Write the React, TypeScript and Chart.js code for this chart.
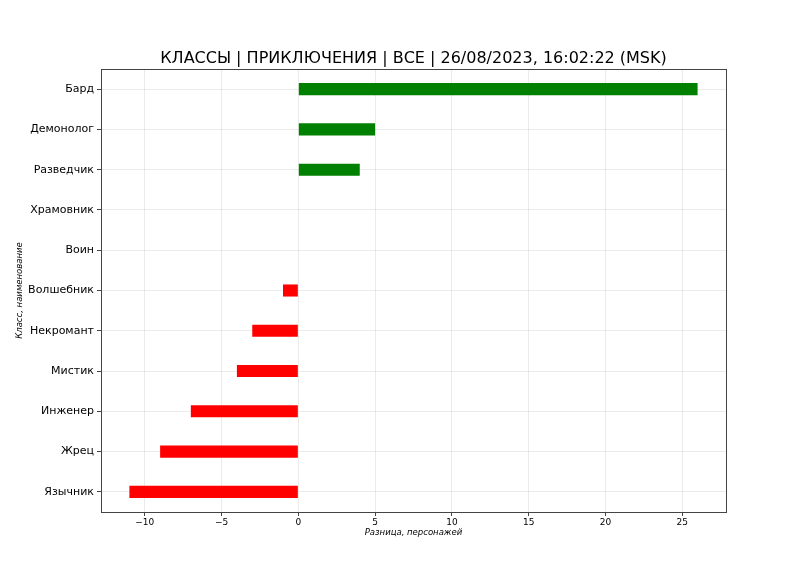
import React, { useEffect, useRef } from "react";
import { Chart, registerables } from "chart.js";

Chart.register(...registerables);

const categories = [
  "Бард",
  "Демонолог",
  "Разведчик",
  "Храмовник",
  "Воин",
  "Волшебник",
  "Некромант",
  "Мистик",
  "Инженер",
  "Жрец",
  "Язычник",
];
const values = [26, 5, 4, 0, 0, -1, -3, -4, -7, -9, -11];
const xTicks = [-10, -5, 0, 5, 10, 15, 20, 25];
const titleText = "КЛАССЫ | ПРИКЛЮЧЕНИЯ | ВСЕ | 26/08/2023, 16:02:22 (MSK)";
const xTitle = "Разница, персонажей";
const yTitle = "Класс, наименование";

const FONT = "'DejaVu Sans', sans-serif";

export default function App() {
  const ref = useRef<HTMLCanvasElement | null>(null);
  useEffect(() => {
    if (!ref.current) return;
    const frame = {
      id: "frame",
      afterDatasetsDraw(chart: any) {
        const { ctx, chartArea } = chart;
        ctx.save();
        ctx.strokeStyle = "#444";
        ctx.lineWidth = 1;
        ctx.strokeRect(
          Math.round(chartArea.left) + 0.5,
          Math.round(chartArea.top) + 0.5,
          Math.round(chartArea.right - chartArea.left),
          Math.round(chartArea.bottom - chartArea.top)
        );
        ctx.restore();
      },
    };
    const chart = new Chart(ref.current, {
      type: "bar",
      data: {
        labels: categories,
        datasets: [
          {
            data: values,
            backgroundColor: values.map((v) => (v >= 0 ? "#008000" : "#ff0000")),
            borderWidth: 0,
            categoryPercentage: 1,
            barPercentage: 0.3,
          },
        ],
      },
      options: {
        indexAxis: "y",
        animation: false,
        responsive: false,
        devicePixelRatio: 1,
        layout: { padding: { left: 0, right: 81, top: 0, bottom: 38 } },
        plugins: {
          legend: { display: false },
          tooltip: { enabled: false },
          title: {
            display: true,
            text: titleText,
            fullSize: false,
            color: "#000",
            font: { family: FONT, size: 16, weight: "normal", lineHeight: 1.25 },
            padding: { top: 49, bottom: 0 },
          },
        },
        scales: {
          x: {
            type: "linear",
            min: -12.85,
            max: 27.85,
            afterBuildTicks: (scale: any) => {
              scale.ticks = xTicks.map((v) => ({ value: v }));
            },
            afterFit: (scale: any) => {
              scale.height = 26;
            },
            ticks: {
              color: "#000",
              font: { family: FONT, size: 9 },
              padding: 1,
              maxRotation: 0,
              callback: (v: any) => String(v).replace("-", "\u2212"),
            },
            grid: {
              color: "rgba(0,0,0,0.08)",
              tickColor: "#444",
              tickLength: 4,
              drawTicks: true,
            },
            border: { display: false },
            title: {
              display: true,
              text: xTitle,
              color: "#000",
              font: { family: FONT, size: 8.5, style: "italic" },
              padding: { top: 0, bottom: 0 },
            },
          },
          y: {
            type: "category",
            offset: true,
            afterFit: (scale: any) => {
              scale.width = 101;
            },
            ticks: {
              color: "#000",
              font: { family: FONT, size: 11 },
              padding: 3,
            },
            grid: {
              offset: false,
              color: "rgba(0,0,0,0.08)",
              tickColor: "#444",
              tickLength: 4,
              drawTicks: true,
            },
            border: { display: false },
            title: {
              display: true,
              text: yTitle,
              color: "#000",
              font: { family: FONT, size: 8.5, style: "italic" },
              padding: { top: 15, bottom: 0 },
            },
          },
        },
      },
      plugins: [frame],
    } as any);
    return () => chart.destroy();
  }, []);
  return (
    <div style={{ position: "fixed", left: 0, top: 0, width: 807, height: 576, background: "#fff" }}>
      <canvas ref={ref} width={807} height={576} style={{ width: 807, height: 576 }} />
    </div>
  );
}
